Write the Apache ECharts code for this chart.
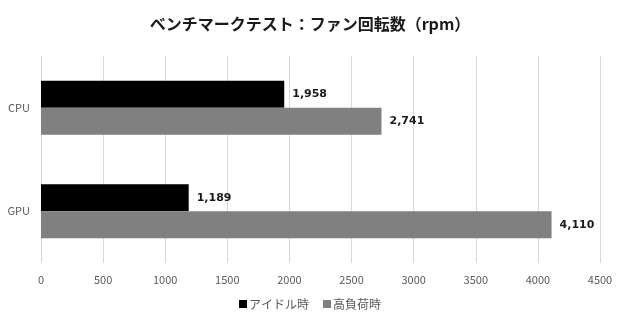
<!DOCTYPE html>
<html>
<head>
<meta charset="utf-8">
<script src="https://cdn.jsdelivr.net/npm/echarts@6/dist/echarts.min.js"></script>
<style>html,body{margin:0;padding:0;background:#fff}#c{width:620px;height:320px}</style>
</head>
<body>
<div id="c"></div>
<script>
const categories = ['CPU', 'GPU'];
const idleValues = [1958, 1189];
const loadValues = [2741, 4110];
const seriesNames = ['アイドル時', '高負荷時'];
const titleText = 'ベンチマークテスト：ファン回転数（rpm）';

const font = '"Noto Sans CJK JP", "Noto Sans", sans-serif';
const chart = echarts.init(document.getElementById('c'));
const fmt = p => p.value.toLocaleString('en-US');
const labelCfg = {
  show: true, position: 'right', distance: 8,
  formatter: fmt, fontFamily: 'Verdana, "DejaVu Sans", sans-serif', fontWeight: 'bold', fontSize: 11, color: '#1a1a1a'
};
chart.setOption({
  animation: false,
  textStyle: { fontFamily: font },
  title: {
    text: titleText, left: 'center', top: 11,
    textStyle: { fontFamily: font, fontSize: 16, fontWeight: 'bold', color: '#1a1a1a' }
  },
  legend: {
    bottom: 5, left: 'center', itemWidth: 8, itemHeight: 8, itemGap: 14,
    icon: 'rect',
    textStyle: { fontFamily: font, fontSize: 12, color: '#595959', padding: [0, 0, 0, -3] },
    data: seriesNames
  },
  grid: { left: 41, right: 20, top: 56, bottom: 57 },
  xAxis: {
    type: 'value', min: 0, max: 4500, interval: 500,
    axisLine: { show: false }, axisTick: { show: false },
    splitLine: { lineStyle: { color: '#d9d9d9' } },
    axisLabel: { fontFamily: font, fontSize: 11, color: '#595959', margin: 11, formatter: v => String(v) }
  },
  yAxis: {
    type: 'category', data: categories, inverse: true,
    axisLine: { show: false }, axisTick: { show: false },
    axisLabel: { fontFamily: font, fontSize: 11, color: '#595959', margin: 11 }
  },
  series: [
    { name: seriesNames[0], type: 'bar', data: idleValues, barGap: '0%', barCategoryGap: '47.8%',
      itemStyle: { color: '#000000' }, label: labelCfg },
    { name: seriesNames[1], type: 'bar', data: loadValues, barGap: '0%', barCategoryGap: '47.8%',
      itemStyle: { color: '#808080' }, label: labelCfg }
  ]
});
</script>
</body>
</html>
